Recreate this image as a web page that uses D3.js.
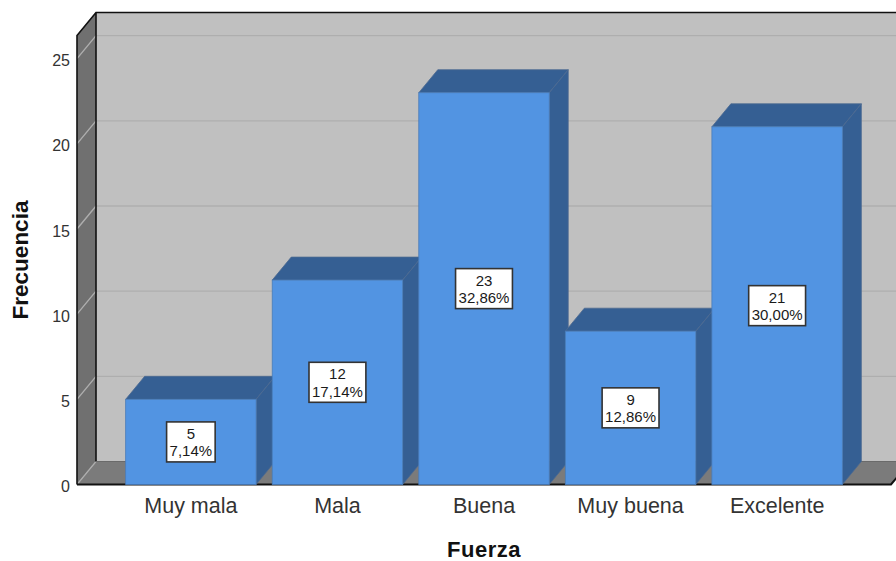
<!DOCTYPE html>
<html>
<head>
<meta charset="utf-8">
<script src="https://cdn.jsdelivr.net/npm/d3@7"></script>
<style>
	html, body { margin: 0; padding: 0; background: #fff; overflow: hidden; }
	svg { display: block; font-family: "Liberation Sans", Arial, sans-serif; }
</style>
</head>
<body>
<div id="chart"></div>
<script>
const categories = ["Muy mala", "Mala", "Buena", "Muy buena", "Excelente"];
const counts = [5, 12, 23, 9, 21];
const percents = ["7,14%", "17,14%", "32,86%", "12,86%", "30,00%"];
const yTicks = [0, 5, 10, 15, 20, 25];

const width = 896, height = 561;
const plotLeft = 77, plotRight = 891, plotBottom = 484.5, plotTop = 35.5;
const depthX = 19, depthY = 23;

const svg = d3.select("#chart").append("svg")
	.attr("width", width)
	.attr("height", height);

const x = d3.scaleBand()
	.domain(categories)
	.range([plotLeft, plotRight])
	.paddingInner(0.11)
	.paddingOuter(0.332);

const y = d3.scaleLinear()
	.domain([0, 26.36])
	.range([plotBottom, plotTop]);

const poly = (g, points, fill, stroke, strokeWidth) => g.append("polygon")
	.attr("points", points.map(p => p.join(",")).join(" "))
	.attr("fill", fill)
	.attr("stroke", stroke || "none")
	.attr("stroke-width", strokeWidth || 0)
	.attr("stroke-linejoin", "round");

// Back wall, side wall and floor of the box
const box = svg.append("g");
poly(box, [[plotLeft + depthX, plotTop - depthY], [plotRight + depthX, plotTop - depthY], [plotRight + depthX, plotBottom - depthY], [plotLeft + depthX, plotBottom - depthY]], "#c0c0c0");
poly(box, [[plotLeft, plotTop], [plotLeft + depthX, plotTop - depthY], [plotLeft + depthX, plotBottom - depthY], [plotLeft, plotBottom]], "#707070");
poly(box, [[plotLeft, plotBottom], [plotLeft + depthX, plotBottom - depthY], [plotRight + depthX, plotBottom - depthY], [plotRight, plotBottom]], "#7b7b7b");

// Gridlines run along the side wall, then across the back wall
const grid = svg.append("g");
grid.selectAll("path.grid")
	.data(yTicks.slice(1))
	.enter().append("path")
	.attr("class", "grid")
	.attr("fill", "none")
	.attr("stroke", "#aeaeae")
	.attr("stroke-width", 1.4)
	.attr("d", d => `M${plotLeft},${y(d)}L${plotLeft + depthX},${y(d) - depthY}L${plotRight + depthX},${y(d) - depthY}`);
grid.append("path")
	.attr("fill", "none")
	.attr("stroke", "#aeaeae")
	.attr("stroke-width", 1.2)
	.attr("d", `M${plotLeft},${y(0)}L${plotLeft + depthX},${y(0) - depthY}`);

// Box outline
svg.append("path")
	.attr("fill", "none")
	.attr("stroke", "#111")
	.attr("stroke-width", 1.6)
	.attr("d", `M${plotLeft},${plotBottom}L${plotLeft},${plotTop}L${plotLeft + depthX},${plotTop - depthY}L${plotRight + depthX},${plotTop - depthY}M${plotLeft + depthX},${plotTop - depthY}L${plotLeft + depthX},${plotBottom - depthY}`);
svg.append("path")
	.attr("fill", "none")
	.attr("stroke", "#6a6a6a")
	.attr("stroke-width", 1)
	.attr("d", `M${plotLeft + depthX},${plotBottom - depthY}L${plotRight + depthX},${plotBottom - depthY}`);
svg.append("path")
	.attr("fill", "none")
	.attr("stroke", "#111")
	.attr("stroke-width", 2)
	.attr("d", `M${plotLeft},${plotBottom}L${plotRight},${plotBottom}L${plotRight + depthX},${plotBottom - depthY}`);

// Bars: top and side faces first, front face over them
const bars = svg.append("g")
	.selectAll("g")
	.data(categories.map((c, i) => ({ category: c, count: counts[i], percent: percents[i] })))
	.enter().append("g");

bars.each(function (d) {
	const g = d3.select(this);
	const x0 = x(d.category), x1 = x0 + x.bandwidth();
	const yTop = y(d.count);
	poly(g, [[x0, yTop], [x0 + depthX, yTop - depthY], [x1 + depthX, yTop - depthY], [x1, yTop]], "#355f93", "#4d6a90", 0.8);
	poly(g, [[x1, yTop], [x1 + depthX, yTop - depthY], [x1 + depthX, plotBottom - depthY], [x1, plotBottom]], "#355f93", "#4d6a90", 0.8);
	g.append("rect")
		.attr("x", x0)
		.attr("y", yTop)
		.attr("width", x.bandwidth())
		.attr("height", plotBottom - yTop)
		.attr("fill", "#5294e2")
		.attr("stroke", "#4a7cb8")
		.attr("stroke-width", 0.8);
});

// Value labels sit in the middle of each front face
const labels = svg.append("g")
	.selectAll("g")
	.data(bars.data())
	.enter().append("g")
	.attr("transform", d => `translate(${x(d.category) + x.bandwidth() / 2},${(y(d.count) + plotBottom) / 2})`);

const boxes = labels.append("rect")
	.attr("fill", "#fff")
	.attr("stroke", "#333")
	.attr("stroke-width", 1.6);

labels.append("text")
	.attr("text-anchor", "middle")
	.attr("font-size", 15)
	.attr("fill", "#1a1a1a")
	.attr("y", -3)
	.text(d => d.count);

const pctText = labels.append("text")
	.attr("text-anchor", "middle")
	.attr("font-size", 15)
	.attr("fill", "#1a1a1a")
	.attr("y", 14.3)
	.text(d => d.percent);

boxes.each(function (d, i) {
	const w = pctText.nodes()[i].getComputedTextLength() + 6;
	d3.select(this)
		.attr("x", -w / 2)
		.attr("y", -20)
		.attr("width", w)
		.attr("height", 40);
});

// Axes
const yAxis = svg.append("g")
	.attr("transform", `translate(${plotLeft},2)`)
	.call(d3.axisLeft(y).tickValues(yTicks).tickSize(0).tickPadding(7));
yAxis.select(".domain").remove();
yAxis.selectAll("text")
	.attr("font-size", 16)
	.attr("font-family", "inherit")
	.attr("fill", "#333");

const xAxis = svg.append("g")
	.attr("transform", `translate(0,${plotBottom})`)
	.call(d3.axisBottom(x).tickSize(0).tickPadding(13));
xAxis.select(".domain").remove();
xAxis.selectAll("text")
	.attr("font-size", 21.5)
	.attr("font-family", "inherit")
	.attr("fill", "#333");

svg.append("text")
	.attr("x", 484)
	.attr("y", 556.5)
	.attr("text-anchor", "middle")
	.attr("font-size", 22)
	.attr("letter-spacing", 0.5)
	.attr("font-weight", "bold")
	.attr("fill", "#111")
	.text("Fuerza");

svg.append("text")
	.attr("transform", "translate(28,260) rotate(-90)")
	.attr("text-anchor", "middle")
	.attr("font-size", 22.5)
	.attr("font-weight", "bold")
	.attr("fill", "#111")
	.text("Frecuencia");
</script>
</body>
</html>
